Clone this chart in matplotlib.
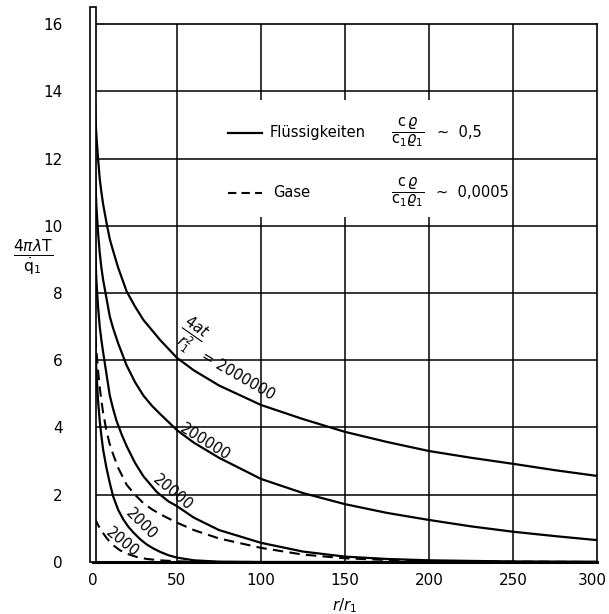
import matplotlib
matplotlib.use("Agg")
import matplotlib.pyplot as plt
from matplotlib.patches import Rectangle
from matplotlib.transforms import ScaledTranslation

plt.rcParams["font.family"] = ["DejaVu Sans"]
plt.rcParams["mathtext.fontset"] = "dejavusans"

# curves: 4at/r1^2 = 2000000, 200000, 20000, 2000 (solid = liquids)
x_2e6 = [1, 1.5, 2, 3, 4, 5, 6, 8, 10, 12, 15, 20, 25, 30, 35, 40, 50, 60, 75, 100, 125, 150, 175, 200,
         225, 250, 275, 300]
y_2e6 = [14.0, 13.2, 12.7, 12.0, 11.4, 11.0, 10.65, 10.1, 9.6, 9.25, 8.75, 8.05, 7.6, 7.2, 6.9, 6.6, 6.07,
         5.7, 5.25, 4.67, 4.25, 3.87, 3.57, 3.3, 3.1, 2.92, 2.73, 2.56]

x_2e5 = [1, 1.5, 2, 3, 4, 5, 6, 8, 10, 12, 15, 20, 25, 30, 35, 40, 50, 60, 75, 100, 125, 150, 175, 200,
         225, 250, 275, 300]
y_2e5 = [12.0, 11.2, 10.6, 9.8, 9.2, 8.75, 8.4, 7.85, 7.3, 6.95, 6.5, 5.85, 5.35, 4.95, 4.65, 4.4, 3.92,
         3.55, 3.1, 2.47, 2.05, 1.72, 1.46, 1.25, 1.06, 0.9, 0.77, 0.65]

x_2e4 = [1, 1.5, 2, 3, 4, 5, 6, 8, 10, 12, 14, 17, 20, 25, 30, 38, 45, 50, 60, 75, 100, 125, 150, 175,
         200, 250, 300]
y_2e4 = [9.8, 9.0, 8.4, 7.6, 7.0, 6.6, 6.25, 5.6, 4.95, 4.55, 4.2, 3.8, 3.45, 2.95, 2.55, 2.08, 1.8, 1.66,
         1.32, 0.95, 0.57, 0.31, 0.16, 0.09, 0.05, 0.015, 0.005]

x_2e3 = [1, 1.5, 2, 3, 4, 5, 6, 8, 10, 12, 15, 18, 21, 24, 28, 32, 36, 40, 45, 50, 60, 75, 100, 300]
y_2e3 = [7.3, 6.3, 5.7, 4.8, 4.2, 3.75, 3.35, 2.8, 2.35, 1.95, 1.55, 1.27, 1.05, 0.88, 0.68, 0.52, 0.4,
         0.3, 0.2, 0.13, 0.05, 0.01, 0.0, 0.0]

# dashed = gases
xg_2e4 = [1, 1.5, 2, 3, 4, 5, 6, 8, 10, 12, 15, 20, 25, 30, 35, 40, 50, 60, 75, 100, 125, 150, 175, 200,
          250, 300]
yg_2e4 = [7.2, 6.7, 6.3, 5.7, 5.2, 4.8, 4.45, 3.9, 3.5, 3.2, 2.8, 2.3, 2.0, 1.75, 1.57, 1.42, 1.17, 0.95,
          0.7, 0.42, 0.22, 0.11, 0.06, 0.03, 0.01, 0.0]

xg_2e3 = [1, 2, 3, 5, 8, 10, 12, 16, 20, 26, 32, 40, 50, 60, 75, 100]
yg_2e3 = [1.3, 1.2, 1.1, 0.93, 0.72, 0.6, 0.5, 0.35, 0.25, 0.15, 0.09, 0.05, 0.02, 0.01, 0.0, 0.0]

xticks = [0, 50, 100, 150, 200, 250, 300]
yticks = [0, 2, 4, 6, 8, 10, 12, 14, 16]

fig = plt.figure(figsize=(6.09, 6.14), dpi=100)
ax = fig.add_axes([0.1527, 0.0847, 0.8276, 0.8762])
ax.set_xlim(0, 300)
ax.set_ylim(0, 16)
ax.set_xticks(xticks)
ax.set_yticks(yticks)
ax.tick_params(length=0, labelsize=11)
ax.tick_params(axis="y", pad=22)
ax.tick_params(axis="x", pad=8)
for s in ax.spines.values():
    s.set_linewidth(1.2)
ax.spines["bottom"].set_linewidth(2.2)
# keep the last x label inside the picture
last = ax.get_xticklabels()[-1]
last.set_transform(last.get_transform() + ScaledTranslation(-5 / 100, 0, fig.dpi_scale_trans))

# grid; verticals at 100..200 broken where the key sits
for yv in yticks[1:-1]:
    ax.axhline(yv, color="black", lw=1.1, zorder=1)
for xv in xticks[1:-1]:
    if xv in (100, 150, 200):
        ax.vlines(xv, 0, 10.27, color="black", lw=1.1, zorder=1)
        ax.vlines(xv, 13.75, 16, color="black", lw=1.1, zorder=1)
    else:
        ax.vlines(xv, 0, 16, color="black", lw=1.1, zorder=1)

kw = dict(color="black", lw=1.6, zorder=3, solid_capstyle="round", solid_joinstyle="round")
ax.plot(x_2e6, y_2e6, **kw)
ax.plot(x_2e5, y_2e5, **kw)
ax.plot(x_2e4, y_2e4, **kw)
ax.plot(x_2e3, y_2e3, **kw)
ax.plot(xg_2e4, yg_2e4, color="black", lw=1.5, ls=(0, (5, 3)), zorder=3)
ax.plot(xg_2e3, yg_2e3, color="black", lw=1.5, ls=(0, (5, 3)), zorder=3)

# thick double-line y axis
ax.add_patch(Rectangle((-1.5, 0), 3.0, 16.5, facecolor="white", edgecolor="black",
                       lw=1.2, clip_on=False, zorder=4))

# curve labels
lab = dict(ha="center", va="center", rotation_mode="anchor", fontsize=10.5, zorder=5)
ax.text(57.5, 6.7, r"$\frac{4at}{r_1^2}$", rotation=-35, fontsize=15,
        ha="center", va="center", rotation_mode="anchor", zorder=5)
ax.text(86, 5.55, "= 2000000", rotation=-30, **lab)
ax.text(67, 3.57, "200000", rotation=-32, **lab)
ax.text(47.6, 2.05, "20000", rotation=-40, **lab)
ax.text(28.6, 1.13, "2000", rotation=-45, **lab)
ax.text(17.3, 0.6, "2000", rotation=-39, **lab)

# key
frac = r"$\frac{\mathrm{c}\,\varrho}{\mathrm{c}_1\varrho_1}$"
ax.plot([80.4, 100.6], [12.77, 12.77], color="black", lw=1.6)
ax.text(105.4, 12.77, "Flüssigkeiten", fontsize=10.5, va="center")
ax.text(187, 12.77, frac, fontsize=15, va="center", ha="center")
ax.text(205, 12.77, "~  0,5", fontsize=10.5, va="center")
ax.plot([80.4, 100.6], [10.98, 10.98], color="black", lw=1.5, ls=(0, (4, 2.5)))
ax.text(107, 10.98, "Gase", fontsize=10.5, va="center")
ax.text(187, 10.98, frac, fontsize=15, va="center", ha="center")
ax.text(204, 10.98, "~  0,0005", fontsize=10.5, va="center")

ax.set_xlabel(r"$r/r_1$", fontsize=11, labelpad=6)
fig.text(0.055, 0.58, r"$\frac{4\pi\lambda \mathrm{T}}{\dot{\mathrm{q}}_1}$", fontsize=16,
         ha="center", va="center")

fig.savefig("out.png", dpi=100)
